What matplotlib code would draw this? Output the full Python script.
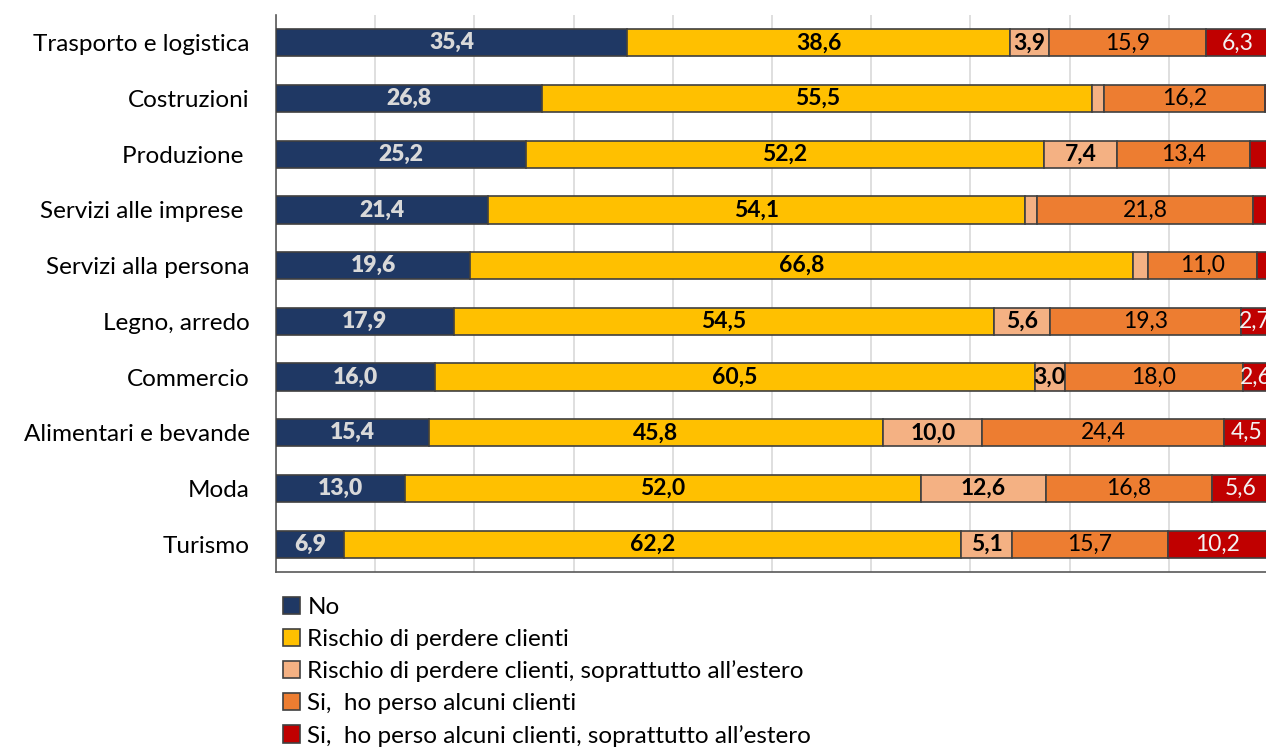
import matplotlib.pyplot as plt
import numpy as np

plt.rcParams['font.family'] = ['Lato', 'DejaVu Sans']

categories = ["Trasporto e logistica", "Costruzioni", "Produzione ", "Servizi alle imprese ",
              "Servizi alla persona", "Legno, arredo", "Commercio", "Alimentari e bevande",
              "Moda", "Turismo"]
no = [35.4, 26.8, 25.2, 21.4, 19.6, 17.9, 16.0, 15.4, 13.0, 6.9]
rischio = [38.6, 55.5, 52.2, 54.1, 66.8, 54.5, 60.5, 45.8, 52.0, 62.2]
rischio_estero = [3.9, 1.2, 7.4, 1.2, 1.5, 5.6, 3.0, 10.0, 12.6, 5.1]
persi = [15.9, 16.2, 13.4, 21.8, 11.0, 19.3, 18.0, 24.4, 16.8, 15.7]
persi_estero = [6.3, 0.3, 1.8, 1.5, 1.1, 2.7, 2.6, 4.5, 5.6, 10.2]

series = [
    ("No", no, "#1F3864", "#D9D9D9", "heavy"),
    ("Rischio di perdere clienti", rischio, "#FFC000", "black", "bold"),
    ("Rischio di perdere clienti, soprattutto all\u2019estero", rischio_estero, "#F4B183", "black", "bold"),
    ("Si,  ho perso alcuni clienti", persi, "#ED7D31", "black", "normal"),
    ("Si,  ho perso alcuni clienti, soprattutto all\u2019estero", persi_estero, "#C00000", "#F2F2F2", "normal"),
]

fig = plt.figure(figsize=(12.66, 7.47), dpi=100)
ax = fig.add_axes([276 / 1266, 1 - 572 / 747, 992 / 1266, (572 - 15) / 747])

y = np.arange(len(categories))
left = np.zeros(len(categories))
for name, vals, color, tcolor, weight in series:
    vals = np.array(vals)
    bars = ax.barh(y, vals, left=left, height=0.49, color=color, edgecolor="#404040",
                   linewidth=1.2, label=name, zorder=3)
    labels = [f"{v:.1f}".replace(".", ",") if v >= 2 else "" for v in vals]
    ax.bar_label(bars, labels=labels, label_type="center", color=tcolor,
                 fontsize=16.5, fontweight=weight, zorder=4)
    left += vals

ax.set_xlim(0, 100)
ax.set_ylim(len(categories) - 0.5, -0.5)
ax.set_yticks(y)
ax.set_yticklabels(categories, fontsize=17.5)
ax.tick_params(axis="y", length=0, pad=19)
ax.set_xticks(np.arange(0, 101, 10))
ax.tick_params(axis="x", length=0, labelbottom=False)
ax.grid(axis="x", color="#D9D9D9", linewidth=1.2, zorder=0)
for s in ["top", "right"]:
    ax.spines[s].set_visible(False)
for s in ["left", "bottom"]:
    ax.spines[s].set_color("#595959")
    ax.spines[s].set_linewidth(1.2)

fig.legend(loc="upper left", bbox_to_anchor=(283 / 1266, 1 - 597 / 747), frameon=False,
           fontsize=17.5, handlelength=0.7, handleheight=0.7, handletextpad=0.3,
           labelspacing=0.44, borderpad=0, borderaxespad=0)

fig.savefig("out.png", dpi=100)
